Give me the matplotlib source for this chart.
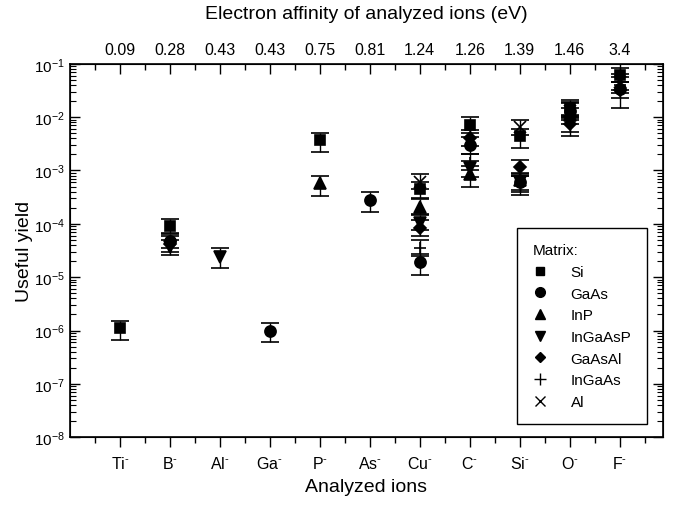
import numpy as np
import matplotlib
matplotlib.use("Agg")
import matplotlib.pyplot as plt
from matplotlib.lines import Line2D
from matplotlib.ticker import LogLocator, NullFormatter, FixedLocator

plt.rcParams['font.family'] = ['Liberation Sans', 'DejaVu Sans']
plt.rcParams['mathtext.fontset'] = 'custom'
plt.rcParams['mathtext.rm'] = 'Liberation Sans'
plt.rcParams['mathtext.it'] = 'Liberation Sans:italic'

# ions on the bottom axis, electron affinity on the top axis
ions = ['Ti', 'B', 'Al', 'Ga', 'P', 'As', 'Cu', 'C', 'Si', 'O', 'F']
affinity = ['0.09', '0.28', '0.43', '0.43', '0.75', '0.81', '1.24', '1.26', '1.39', '1.46', '3.4']

# useful yield per matrix: ion, value, lower bound, upper bound
si_ion = ['Ti', 'B', 'P', 'Cu', 'C', 'Si', 'O', 'F']
si_val = [1.1e-6, 9.0e-5, 3.8e-3, 4.4e-4, 7.2e-3, 4.4e-3, 1.5e-2, 6.2e-2]
si_low = [6.5e-7, 6.8e-5, 2.2e-3, 3.0e-4, 5.0e-3, 2.6e-3, 1.0e-2, 4.5e-2]
si_high = [1.5e-6, 1.25e-4, 5.1e-3, 6.0e-4, 1.0e-2, 6.0e-3, 2.1e-2, 8.5e-2]

gaas_ion = ['B', 'Ga', 'As', 'Cu', 'C', 'Si', 'O', 'F']
gaas_val = [4.8e-5, 9.8e-7, 2.8e-4, 1.9e-5, 3.0e-3, 6.2e-4, 1.3e-2, 3.4e-2]
gaas_low = [3.5e-5, 6.0e-7, 1.7e-4, 1.1e-5, 2.0e-3, 4.0e-4, 9.0e-3, 2.3e-2]
gaas_high = [6.5e-5, 1.4e-6, 3.9e-4, 2.7e-5, 4.2e-3, 8.5e-4, 1.8e-2, 4.6e-2]

inp_ion = ['P', 'Cu', 'C', 'Si', 'O']
inp_val = [5.7e-4, 2.1e-4, 8.5e-4, 6.5e-4, 1.1e-2]
inp_low = [3.3e-4, 1.5e-4, 5.0e-4, 4.3e-4, 7.5e-3]
inp_high = [7.9e-4, 2.9e-4, 1.2e-3, 9.0e-4, 1.5e-2]

ingaasp_ion = ['B', 'Al', 'Cu', 'C', 'Si', 'O']
ingaasp_val = [3.6e-5, 2.4e-5, 1.05e-4, 1.1e-3, 6.0e-4, 8.0e-3]
ingaasp_low = [2.6e-5, 1.5e-5, 7.5e-5, 7.5e-4, 3.5e-4, 4.5e-3]
ingaasp_high = [5.0e-5, 3.5e-5, 1.45e-4, 1.5e-3, 8.0e-4, 1.1e-2]

gaasal_ion = ['B', 'Cu', 'C', 'Si', 'O', 'F']
gaasal_val = [4.2e-5, 8.5e-5, 4.1e-3, 1.15e-3, 7.5e-3, 3.2e-2]
gaasal_low = [3.0e-5, 6.0e-5, 2.9e-3, 8.0e-4, 5.3e-3, 1.5e-2]
gaasal_high = [5.8e-5, 1.2e-4, 5.7e-3, 1.6e-3, 1.05e-2, 4.5e-2]

ingaas_ion = ['Cu', 'C', 'F']
ingaas_val = [3.5e-5, 1.4e-3, 4.0e-2]
ingaas_low = [2.5e-5, 1.0e-3, 2.8e-2]
ingaas_high = [4.9e-5, 2.0e-3, 5.6e-2]

al_ion = ['Cu', 'Si', 'O', 'F']
al_val = [6.0e-4, 6.5e-3, 1.3e-2, 4.5e-2]
al_low = [4.5e-4, 4.6e-3, 9.5e-3, 3.2e-2]
al_high = [8.5e-4, 8.7e-3, 1.9e-2, 6.3e-2]

series = [
    ('Si', 's', si_ion, si_val, si_low, si_high),
    ('GaAs', 'o', gaas_ion, gaas_val, gaas_low, gaas_high),
    ('InP', '^', inp_ion, inp_val, inp_low, inp_high),
    ('InGaAsP', 'v', ingaasp_ion, ingaasp_val, ingaasp_low, ingaasp_high),
    ('GaAsAl', 'D', gaasal_ion, gaasal_val, gaasal_low, gaasal_high),
    ('InGaAs', '+', ingaas_ion, ingaas_val, ingaas_low, ingaas_high),
    ('Al', 'x', al_ion, al_val, al_low, al_high),
]
msizes = {'s': 7, 'o': 8, '^': 8, 'v': 8, 'D': 6.5, '+': 9, 'x': 8}

fig = plt.figure(figsize=(6.79, 5.06), dpi=100)
ax = fig.add_axes([0.103, 0.134, 0.873, 0.738])

pos = {name: i + 1 for i, name in enumerate(ions)}
handles = []
for label, mk, ion, val, low, high in series:
    x = np.array([pos[k] for k in ion])
    y = np.array(val)
    err = np.array([y - np.array(low), np.array(high) - y])
    ax.errorbar(x, y, yerr=err, fmt=mk, color='black', ms=msizes[mk],
                mew=1.2, ecolor='black', elinewidth=1, capsize=6.5, capthick=1)
    handles.append(Line2D([], [], ls='none', marker=mk, color='black',
                          ms=msizes[mk] - 1, mew=1))

ax.set_yscale('log')
ax.set_ylim(1e-8, 1e-1)
ax.set_xlim(0, 11.86)
ax.yaxis.set_major_locator(LogLocator(base=10, numticks=20))
ax.yaxis.set_minor_locator(LogLocator(base=10, subs=np.arange(2, 10), numticks=20))
ax.yaxis.set_minor_formatter(NullFormatter())

ax.set_xticks(range(1, 12))
ax.set_xticklabels([s + r'$^{\text{-}}$' for s in ions], fontsize=11.5)
ax.xaxis.set_minor_locator(FixedLocator(np.arange(0.5, 12, 1)))
ax.tick_params(axis='x', which='major', direction='out', length=7, width=1, pad=6)
ax.tick_params(axis='x', which='minor', direction='out', length=4, width=1)
ax.tick_params(axis='y', which='major', direction='in', length=7, width=1,
               right=True, labelsize=11)
ax.tick_params(axis='y', which='minor', direction='in', length=4, width=0.8,
               right=True)
for sp in ax.spines.values():
    sp.set_linewidth(1.2)

ax.set_xlabel('Analyzed ions', fontsize=14, labelpad=5)
ax.set_ylabel('Useful yield', fontsize=14, labelpad=1)

top = ax.twiny()
top.set_xlim(ax.get_xlim())
top.set_xticks(range(1, 12))
top.set_xticklabels(affinity, fontsize=11.5)
top.xaxis.set_minor_locator(FixedLocator(np.arange(0.5, 12, 1)))
top.tick_params(axis='x', which='major', direction='in', length=7, width=1, pad=5)
top.tick_params(axis='x', which='minor', direction='in', length=4, width=1)
top.set_xlabel('Electron affinity of analyzed ions (eV)', fontsize=14, labelpad=17)

leg = ax.legend(handles, [s[0] for s in series], title='Matrix:',
                loc='lower right', bbox_to_anchor=(0.973, 0.035),
                borderaxespad=0, fontsize=11, title_fontsize=11, frameon=True,
                fancybox=False, edgecolor='black', framealpha=1,
                alignment='left', handletextpad=1.5, labelspacing=0.5,
                borderpad=1.0, handlelength=1.0)
leg.get_frame().set_linewidth(1)

fig.savefig('out.png', dpi=100)
